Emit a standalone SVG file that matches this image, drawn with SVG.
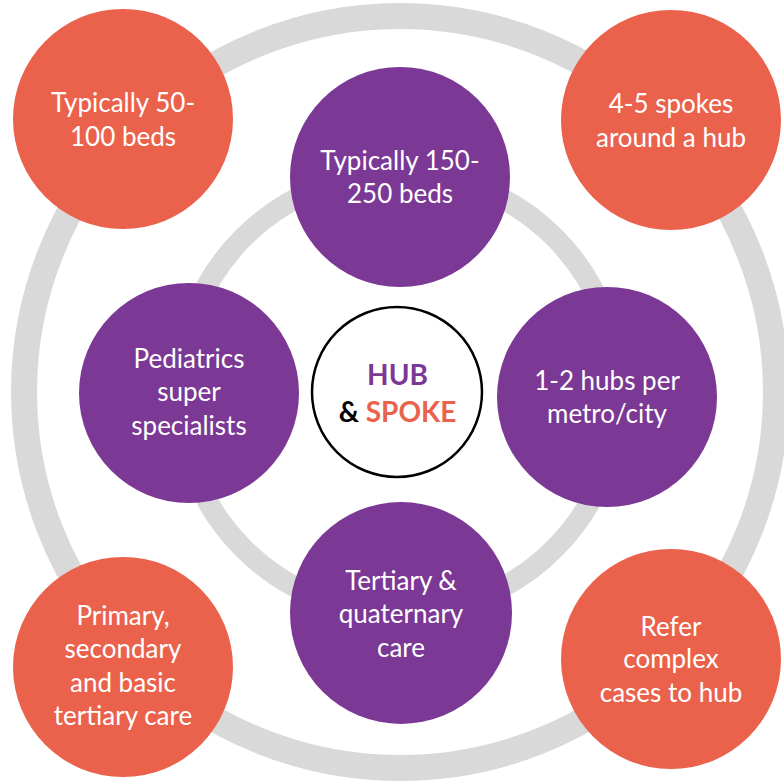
<svg xmlns="http://www.w3.org/2000/svg" width="784" height="781" viewBox="0 0 784 781">
<style>
.ring{fill:none;stroke:#D9D9D9}
.hub{fill:#7B3894}
.spoke{fill:#EA624C}
.t{font-family:Lato,"Open Sans","Liberation Sans",sans-serif;font-size:26px;fill:#FFFFFF;text-anchor:middle}
.c{font-family:Lato,"Open Sans","Liberation Sans",sans-serif;font-size:28px;font-weight:bold;text-anchor:middle}
</style>
<rect width="784" height="781" fill="#FFFFFF"/>
<g id="rings">
<circle class="ring" cx="400" cy="392" r="376" stroke-width="26"/>
<circle class="ring" cx="399" cy="393" r="220" stroke-width="21"/>
</g>
<g id="hub-top">
<circle class="hub" cx="400" cy="177" r="110"/>
<text class="t" x="400" y="170">Typically 150-</text>
<text class="t" x="400" y="203">250 beds</text>
</g>
<g id="hub-left">
<circle class="hub" cx="189" cy="393" r="110"/>
<text class="t" x="189" y="368">Pediatrics</text>
<text class="t" x="189" y="401">super</text>
<text class="t" x="189" y="435">specialists</text>
</g>
<g id="hub-right">
<circle class="hub" cx="607" cy="397" r="110"/>
<text class="t" x="607" y="390">1-2 hubs per</text>
<text class="t" x="607" y="423">metro/city</text>
</g>
<g id="hub-bottom">
<circle class="hub" cx="401" cy="613" r="111"/>
<text class="t" x="401" y="590">Tertiary &amp;</text>
<text class="t" x="401" y="623">quaternary</text>
<text class="t" x="401" y="657">care</text>
</g>
<g id="spoke-top-left">
<circle class="spoke" cx="123" cy="119" r="110"/>
<text class="t" x="123" y="112">Typically 50-</text>
<text class="t" x="123" y="146">100 beds</text>
</g>
<g id="spoke-top-right">
<circle class="spoke" cx="671" cy="120" r="110"/>
<text class="t" x="671" y="113">4-5 spokes</text>
<text class="t" x="671" y="147">around a hub</text>
</g>
<g id="spoke-bottom-left">
<circle class="spoke" cx="123" cy="667" r="110"/>
<text class="t" x="123" y="625">Primary,</text>
<text class="t" x="123" y="658">secondary</text>
<text class="t" x="123" y="692">and basic</text>
<text class="t" x="123" y="725">tertiary care</text>
</g>
<g id="spoke-bottom-right">
<circle class="spoke" cx="671" cy="659" r="110"/>
<text class="t" x="671" y="636">Refer</text>
<text class="t" x="671" y="668">complex</text>
<text class="t" x="671" y="702">cases to hub</text>
</g>
<g id="center">
<circle cx="397" cy="392" r="85" fill="#FFFFFF" stroke="#000000" stroke-width="2.5"/>
<text class="c" x="397.5" y="385" fill="#7B3894">HUB</text>
<text class="c" x="397.5" y="422"><tspan fill="#000000">&amp; </tspan><tspan fill="#EA624C">SPOKE</tspan></text>
</g>
</svg>
